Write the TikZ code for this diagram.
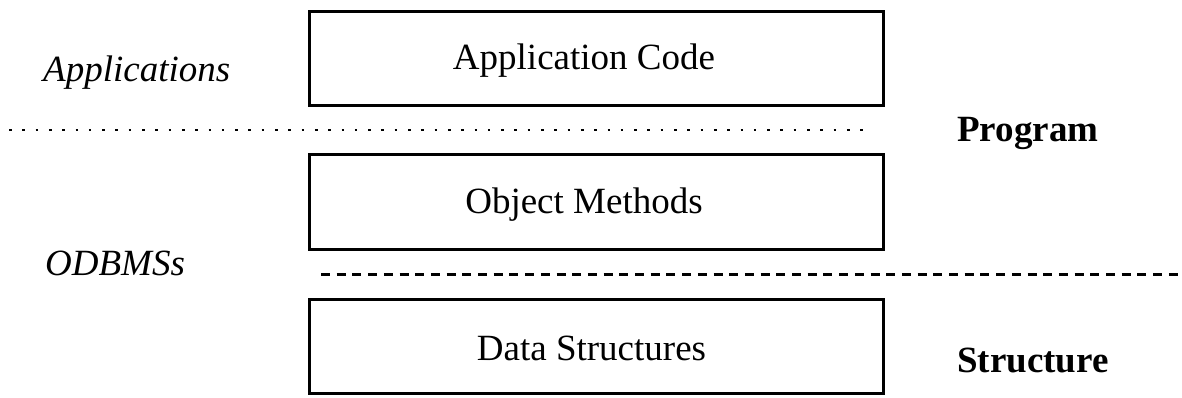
\documentclass[tikz,border=0pt]{standalone}
\usepackage{fontspec}
\setmainfont{Liberation Serif}
\begin{document}
\begin{tikzpicture}[x=1pt,y=-1pt,
  layerbox/.style={draw=black,line width=3pt,minimum width=574pt,minimum height=94pt,inner sep=0pt},
  boxtext/.style={anchor=base,inner sep=0pt,font=\fontsize{37}{44}\selectfont},
  sidelabel/.style={anchor=base west,inner sep=0pt,font=\fontsize{37}{44}\selectfont\itshape},
  levellabel/.style={anchor=base west,inner sep=0pt,font=\fontsize{37}{44}\selectfont\bfseries},
  dotline/.style={line width=2.6pt,dash pattern=on 2.6pt off 10.7pt},
  dashline/.style={line width=3pt,dash pattern=on 9pt off 6.7pt}]
\useasboundingbox (0,0) rectangle (1182,398);
\node[layerbox] (app) at (596.5,58.5) {};
\node[layerbox] (obj) at (596.5,202) {};
\node[layerbox] (data) at (596.5,346.5) {};
\node[boxtext] (apptext) at (584,70) {Application Code};
\node[boxtext] (objtext) at (584,213) {Object Methods};
\node[boxtext] (datatext) at (591.5,360) {Data Structures};
\node[sidelabel] (applications) at (43,82) {Applications};
\node[sidelabel] (odbms) at (45,275) {ODBMSs};
\node[levellabel] (program) at (957,142) {Program};
\node[levellabel] (structure) at (957,372) {Structure};
\coordinate (dotA) at (9,130);
\coordinate (dotB) at (865,130);
\coordinate (dashA) at (321,274);
\coordinate (dashB) at (1182,274);
\draw[dotline] (dotA) -- (dotB);
\draw[dashline] (dashA) -- (dashB);
\end{tikzpicture}
\end{document}
